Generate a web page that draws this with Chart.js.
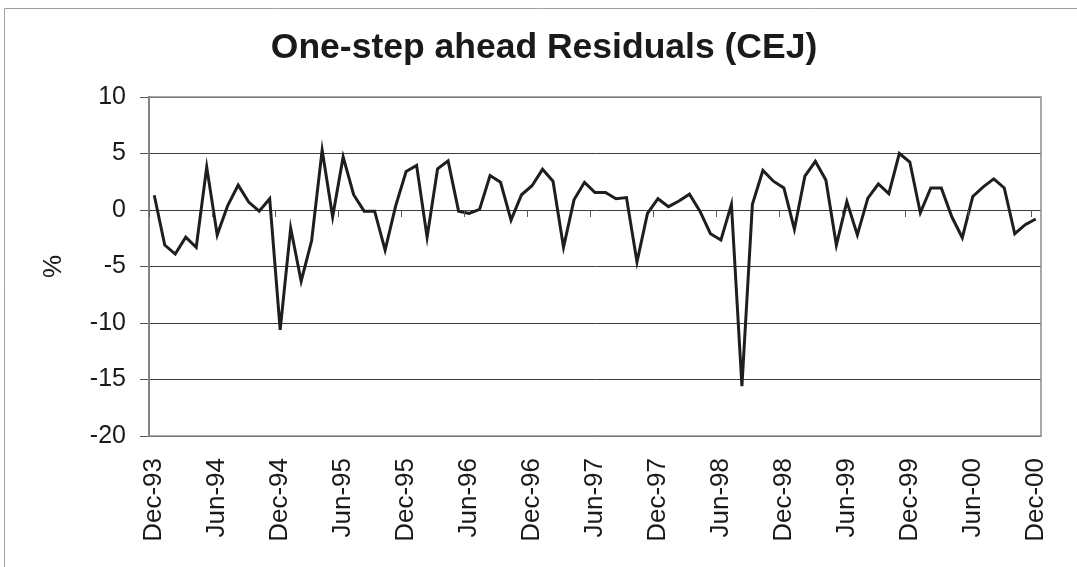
<!DOCTYPE html>
<html>
<head>
<meta charset="utf-8">
<script src="https://cdn.jsdelivr.net/npm/chart.js@4/dist/chart.umd.min.js"></script>
<style>
  html, body { margin: 0; padding: 0; background: #fff; }
  #wrap { width: 1077px; height: 567px; }
</style>
</head>
<body>
<div id="wrap"><canvas id="c" width="1077" height="567"></canvas></div>
<script>
const months = [
  "Dec-93",
  "Jan-94","Feb-94","Mar-94","Apr-94","May-94","Jun-94","Jul-94","Aug-94","Sep-94","Oct-94","Nov-94","Dec-94",
  "Jan-95","Feb-95","Mar-95","Apr-95","May-95","Jun-95","Jul-95","Aug-95","Sep-95","Oct-95","Nov-95","Dec-95",
  "Jan-96","Feb-96","Mar-96","Apr-96","May-96","Jun-96","Jul-96","Aug-96","Sep-96","Oct-96","Nov-96","Dec-96",
  "Jan-97","Feb-97","Mar-97","Apr-97","May-97","Jun-97","Jul-97","Aug-97","Sep-97","Oct-97","Nov-97","Dec-97",
  "Jan-98","Feb-98","Mar-98","Apr-98","May-98","Jun-98","Jul-98","Aug-98","Sep-98","Oct-98","Nov-98","Dec-98",
  "Jan-99","Feb-99","Mar-99","Apr-99","May-99","Jun-99","Jul-99","Aug-99","Sep-99","Oct-99","Nov-99","Dec-99",
  "Jan-00","Feb-00","Mar-00","Apr-00","May-00","Jun-00","Jul-00","Aug-00","Sep-00","Oct-00","Nov-00","Dec-00"
];
const residuals = [
  1.3,-3.1,-3.9,-2.4,-3.3,3.8,-2.2,0.4,2.2,0.7,-0.1,1.0,
  -10.6,-1.6,-6.3,-2.7,5.3,-0.6,4.7,1.35,-0.1,-0.1,-3.55,0.35,
  3.4,3.95,-2.4,3.65,4.35,-0.1,-0.3,0.05,3.05,2.45,-0.9,1.35,
  2.15,3.6,2.55,-3.3,0.9,2.45,1.55,1.55,1.0,1.1,-4.6,-0.3,
  1.0,0.3,0.8,1.4,-0.1,-2.1,-2.65,0.5,-15.6,0.5,3.5,2.55,
  1.95,-1.7,3.0,4.3,2.65,-3.1,0.75,-2.2,1.05,2.3,1.45,5.0,
  4.25,-0.25,1.95,1.95,-0.6,-2.45,1.2,2.05,2.75,1.95,-2.1,-1.3,-0.8
];
const yTicks = [10, 5, 0, -5, -10, -15, -20];
const labelEvery = 6;
const titleText = "One-step ahead Residuals (CEJ)";
const yTitle = "%";

const FONT = "'Liberation Sans', Arial, Helvetica, sans-serif";

const decorPlugin = {
  id: 'decor',
  beforeDraw(chart) {
    const ctx = chart.ctx;
    ctx.save();
    ctx.fillStyle = '#fff';
    ctx.fillRect(0, 0, chart.width, chart.height);
    // outer frame (top + left)
    ctx.strokeStyle = '#a0a0a0';
    ctx.lineWidth = 1;
    ctx.beginPath();
    ctx.moveTo(4.5, chart.height);
    ctx.lineTo(4.5, 8.5);
    ctx.lineTo(chart.width, 8.5);
    ctx.stroke();
    ctx.restore();
  },
  afterDatasetsDraw(chart) {
    const ctx = chart.ctx;
    const a = chart.chartArea;
    const xs = chart.scales.x, ys = chart.scales.y;
    ctx.save();
    // plot-area border
    ctx.strokeStyle = '#8c8c8c';
    ctx.lineWidth = 1.5;
    ctx.strokeRect(a.left, a.top, a.right - a.left, a.bottom - a.top);
    // category tick marks on the zero line
    const y0 = ys.getPixelForValue(0);
    const w = xs.getPixelForValue(1) - xs.getPixelForValue(0);
    ctx.strokeStyle = '#555';
    ctx.lineWidth = 1;
    for (let k = 0; k <= months.length; k += labelEvery) {
      const x = Math.round(xs.getPixelForValue(0) - w / 2 + k * w) + 0.5;
      ctx.beginPath();
      ctx.moveTo(x, y0);
      ctx.lineTo(x, y0 + 7);
      ctx.stroke();
    }
    ctx.restore();
  }
};

new Chart(document.getElementById('c'), {
  type: 'line',
  data: {
    labels: months,
    datasets: [{
      data: residuals,
      borderColor: '#1e1e1e',
      borderWidth: 3,
      pointRadius: 0,
      tension: 0,
      fill: false
    }]
  },
  options: {
    responsive: false,
    animation: false,
    devicePixelRatio: 1,
    layout: { padding: { left: 47, right: 36, top: 0, bottom: 0 } },
    plugins: {
      legend: { display: false },
      tooltip: { enabled: false },
      title: {
        display: true,
        text: titleText,
        color: '#1a1a1a',
        font: { family: FONT, size: 35.5, weight: 'bold', lineHeight: 1.2 },
        padding: { top: 27, bottom: 27.4 }
      }
    },
    scales: {
      x: {
        type: 'category',
        offset: true,
        grid: { display: false, drawTicks: false },
        border: { display: false },
        ticks: {
          autoSkip: false,
          maxRotation: 90,
          minRotation: 90,
          padding: 22,
          color: '#1a1a1a',
          font: { family: FONT, size: 26 },
          callback: function(value, index) {
            return index % labelEvery === 0 ? months[index] : '';
          }
        },
        afterFit(scale) {
          scale.height = 131;
          scale.paddingLeft = 0;
          scale.paddingRight = 0;
        }
      },
      y: {
        min: -20,
        max: 10,
        afterBuildTicks(scale) { scale.ticks = yTicks.map(v => ({ value: v })); },
        grid: { color: '#3c3c3c', lineWidth: 1, tickLength: 9, tickColor: '#555' },
        border: { display: true, color: '#6e6e6e', width: 2 },
        ticks: {
          padding: 14,
          color: '#1a1a1a',
          font: { family: FONT, size: 25 }
        },
        title: {
          display: true,
          text: yTitle,
          color: '#1a1a1a',
          font: { family: FONT, size: 26 },
          padding: { top: -8.6, bottom: 0 }
        },
        afterFit(scale) { scale.width = 102; }
      }
    }
  },
  plugins: [decorPlugin]
});
</script>
</body>
</html>
